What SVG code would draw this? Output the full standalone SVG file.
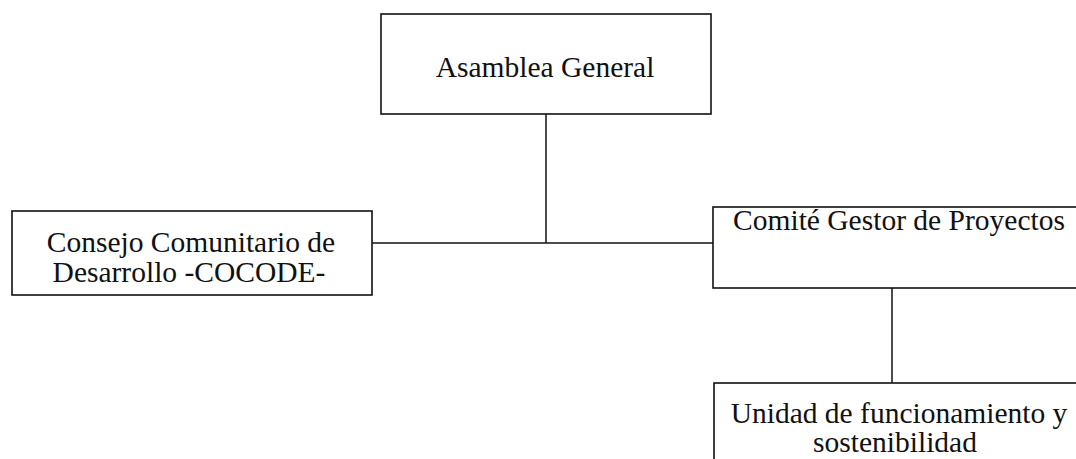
<svg xmlns="http://www.w3.org/2000/svg" width="1076" height="459" viewBox="0 0 1076 459">
<style>
.box{fill:#fff;stroke:#111;stroke-width:1.6}
.t{font-family:"Liberation Serif","Times New Roman",serif;font-size:29.5px;fill:#111;text-anchor:middle}
.c{stroke:#111;stroke-width:1.5;fill:none}
</style>
<rect width="1076" height="459" fill="#fff"/>
<g id="connectors">
<line class="c" x1="546" y1="114" x2="546" y2="243"/>
<line class="c" x1="372" y1="243" x2="713" y2="243"/>
<line class="c" x1="892" y1="288" x2="892" y2="383"/>
</g>
<g id="asamblea">
<rect class="box" x="381" y="14" width="330" height="100"/>
<text class="t" x="545" y="77">Asamblea General</text>
</g>
<g id="cocode">
<rect class="box" x="12" y="211" width="360" height="84"/>
<text class="t" x="191" y="252">Consejo Comunitario de</text>
<text class="t" x="189" y="282">Desarrollo -COCODE-</text>
</g>
<g id="comite">
<rect class="box" x="713" y="207" width="380" height="81"/>
<text class="t" x="899" y="230">Comité Gestor de Proyectos</text>
</g>
<g id="unidad">
<rect class="box" x="714" y="383" width="380" height="100"/>
<text class="t" x="899" y="423">Unidad de funcionamiento y</text>
<text class="t" x="895" y="452">sostenibilidad</text>
</g>
</svg>
